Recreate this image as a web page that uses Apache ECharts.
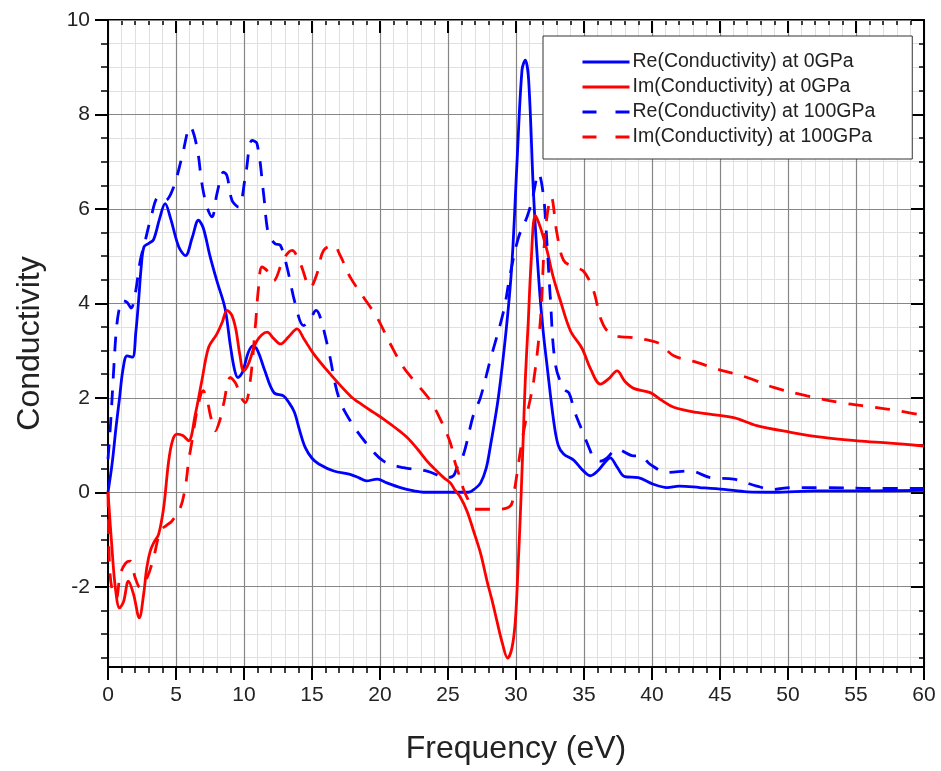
<!DOCTYPE html>
<html><head><meta charset="utf-8">
<script src="https://cdn.jsdelivr.net/npm/echarts@6/dist/echarts.min.js"></script>
<style>html,body{margin:0;padding:0;background:#fff}#c{width:941px;height:771px}</style>
</head><body><div id="c"></div>
<script>
// ---- data ----
const seriesNames = ['Re(Conductivity) at 0GPa','Im(Conductivity) at 0GPa','Re(Conductivity) at 100GPa','Im(Conductivity) at 100GPa'];

const re0 = [[0,0],[0.3,0.6],[0.6,1.4],[0.85,2.0],[1.1,2.6],[1.4,2.89],[1.8,2.86],[2.05,3.4],[2.25,4.06],[2.45,4.8],[2.65,5.2],[3.0,5.27],[3.35,5.35],[3.8,5.8],[4.2,6.11],[4.6,5.8],[5.2,5.2],[5.7,5.01],[6.2,5.4],[6.65,5.76],[7.0,5.6],[7.5,5.0],[8.0,4.48],[8.6,3.9],[9.0,3.1],[9.3,2.6],[9.55,2.43],[9.9,2.55],[10.3,2.95],[10.65,3.1],[11.0,3.0],[11.5,2.6],[12.2,2.11],[12.9,2.04],[13.3,1.9],[13.7,1.7],[14.1,1.3],[14.5,0.95],[15.0,0.72],[15.5,0.6],[16.6,0.45],[17.8,0.38],[18.5,0.3],[19.0,0.24],[19.8,0.28],[20.5,0.2],[21.5,0.1],[22.5,0.03],[23.2,0],[26.5,0],[27.0,0.08],[27.4,0.2],[27.8,0.5],[28.1,0.95],[28.7,2.0],[29.3,3.5],[29.7,4.84],[30.07,6.96],[30.44,8.94],[30.68,9.15],[30.93,8.73],[31.3,6.25],[31.7,4.4],[32.0,3.4],[32.3,2.64],[32.77,1.51],[33.1,1.0],[33.5,0.81],[34.24,0.68],[34.8,0.5],[35.46,0.35],[36.0,0.45],[36.5,0.62],[36.93,0.73],[37.4,0.55],[38.0,0.33],[39.0,0.31],[40.1,0.17],[41.1,0.1],[42.0,0.13],[43.5,0.1],[45.3,0.06],[47.0,0.01],[49,0],[52,0.03],[56,0.03],[60,0.04]];

const im0 = [[0,0],[0.29,-1.18],[0.54,-2.02],[0.85,-2.45],[1.15,-2.31],[1.5,-1.88],[1.88,-2.16],[2.3,-2.66],[2.62,-2.16],[2.85,-1.6],[3.1,-1.25],[3.4,-1.05],[3.72,-0.89],[4.09,-0.33],[4.46,0.66],[4.75,1.1],[5.07,1.23],[5.5,1.2],[5.93,1.09],[6.42,1.65],[6.9,2.36],[7.4,3.07],[8.0,3.35],[8.4,3.6],[8.75,3.85],[9.1,3.75],[9.4,3.45],[9.7,2.9],[9.97,2.57],[10.3,2.7],[10.96,3.21],[11.7,3.39],[12.2,3.25],[12.67,3.14],[13.3,3.3],[13.9,3.46],[14.4,3.25],[15.12,2.93],[16.35,2.5],[17.82,2.04],[18.7,1.85],[19.53,1.69],[20.26,1.55],[21.2,1.35],[22.0,1.16],[22.8,0.9],[23.46,0.66],[24.0,0.5],[24.68,0.31],[25.17,0.2],[25.5,0.05],[25.9,-0.1],[26.4,-0.4],[26.88,-0.82],[27.4,-1.3],[27.87,-1.88],[28.25,-2.3],[28.6,-2.73],[29.0,-3.2],[29.38,-3.51],[29.7,-3.3],[29.95,-2.73],[30.15,-1.6],[30.32,-0.47],[30.5,0.9],[30.68,2.36],[30.9,3.6],[31.1,4.8],[31.42,5.86],[31.8,5.6],[32.28,5.12],[32.7,4.6],[33.26,4.06],[34.0,3.42],[34.85,3.05],[35.5,2.6],[36.2,2.29],[36.8,2.4],[37.43,2.57],[38.0,2.35],[38.65,2.2],[39.87,2.11],[40.7,1.95],[41.6,1.8],[43.3,1.69],[46.0,1.58],[47.7,1.41],[50.2,1.27],[52.6,1.16],[55.1,1.09],[57.5,1.04],[60,0.98]];

const re100 = [[0,0.7],[0.2,1.5],[0.4,2.5],[0.6,3.4],[0.8,3.85],[1.03,4.06],[1.4,4.02],[1.7,3.9],[2.0,4.2],[2.37,4.9],[2.74,5.33],[3.11,5.76],[3.72,6.25],[4.21,6.18],[4.82,6.46],[5.44,7.1],[6.05,7.74],[6.54,7.31],[6.91,6.53],[7.28,6.04],[7.65,5.83],[8.01,6.32],[8.5,6.78],[8.75,6.7],[9.12,6.18],[9.6,6.04],[10.1,6.68],[10.59,7.45],[10.96,7.38],[11.44,6.32],[11.7,5.61],[11.93,5.4],[12.3,5.26],[12.67,5.23],[13.16,4.77],[13.77,3.99],[14.38,3.53],[14.88,3.67],[15.3,3.85],[15.61,3.7],[16.22,3.0],[16.96,2.01],[17.82,1.51],[19.04,1.02],[20.26,0.66],[21.74,0.52],[23.46,0.45],[24.93,0.31],[25.4,0.35],[25.66,0.52],[26.15,0.81],[26.88,1.65],[27.38,2.0],[28.1,2.79],[29.1,3.85],[29.58,4.63],[30.19,5.4],[30.81,5.83],[31.18,6.18],[31.66,6.75],[32.03,6.25],[32.28,5.26],[32.52,4.13],[32.89,2.72],[33.5,2.19],[33.9,2.1],[34.3,1.72],[34.97,1.23],[35.46,0.88],[35.7,0.73],[36.2,0.66],[36.7,0.73],[37.18,0.88],[37.43,0.91],[38.65,0.77],[39.14,0.77],[39.87,0.59],[41.1,0.42],[42.8,0.45],[44.3,0.31],[46.0,0.28],[47.7,0.13],[48.94,0.06],[50.2,0.1],[52.6,0.1],[56.3,0.08],[60,0.08]];

const im100 = [[0,0],[0.12,-1.6],[0.37,-2.16],[0.61,-2.24],[0.9,-1.74],[1.3,-1.5],[1.64,-1.46],[2.0,-1.81],[2.37,-2.02],[2.87,-1.81],[3.35,-1.39],[3.85,-0.82],[4.3,-0.7],[4.7,-0.61],[5.32,-0.33],[5.68,0.1],[5.93,0.66],[6.18,1.09],[6.6,1.8],[7.0,2.15],[7.3,1.94],[7.55,1.6],[7.89,1.3],[8.2,1.5],[8.5,1.87],[9.0,2.43],[9.4,2.3],[9.8,2.0],[10.1,1.9],[10.46,2.36],[10.83,3.5],[11.07,4.34],[11.32,4.77],[11.81,4.66],[12.18,4.48],[12.91,4.94],[13.53,5.12],[14.14,4.84],[14.88,4.34],[15.37,4.63],[15.85,5.12],[16.59,5.23],[17.08,5.01],[17.82,4.55],[18.79,4.13],[19.78,3.7],[20.76,3.14],[21.74,2.64],[22.72,2.29],[23.7,1.94],[24.43,1.55],[25.17,1.05],[25.5,0.65],[25.78,0.4],[26.1,0.1],[26.4,-0.11],[27.0,-0.36],[28.6,-0.36],[29.58,-0.29],[29.85,0.0],[30.07,0.38],[30.44,1.09],[30.81,1.65],[31.3,2.36],[31.79,3.63],[32.16,5.54],[32.6,6.25],[33.0,5.5],[33.5,4.91],[34.24,4.77],[34.97,4.68],[35.7,4.27],[36.2,3.7],[36.7,3.42],[37.5,3.3],[38.4,3.28],[39.87,3.21],[40.6,3.14],[41.6,2.89],[43.3,2.75],[44.78,2.61],[47.0,2.43],[48.94,2.22],[51.4,2.04],[53.85,1.9],[56.3,1.8],[58.25,1.72],[60,1.62]];

const yMajorTicks = [-2,0,2,4,6,8,10];
const yMinorTicks = [-3.5,-3,-2.5,-1.5,-1,-0.5,0.5,1,1.5,2.5,3,3.5,4.5,5,5.5,6.5,7,7.5,8.5,9,9.5];
const xTitle = 'Frequency (eV)';
const yTitle = 'Conductivity';

// ---- chart ----
const FONT = '"Liberation Sans", Arial, sans-serif';
const YMIN = -3.7, YMAX = 10;
const BLUE = '#0000ff', RED = '#ff0000';
const chart = echarts.init(document.getElementById('c'), null, {renderer: 'canvas'});

function yAx(extra) {
  return Object.assign({
    type: 'value', min: YMIN, max: YMAX,
    axisLine: {show: false, onZero: false},
    axisLabel: {show: false},
    splitLine: {show: false},
    minorTick: {show: false}
  }, extra);
}

const option = {
  animation: false,
  backgroundColor: '#fff',
  grid: {left: 108, right: 17, top: 20, bottom: 104},
  legend: {
    orient: 'vertical', left: 543, top: 36,
    padding: [16, 37, 12, 38],
    itemWidth: 47, itemHeight: 14, itemGap: 5,
    backgroundColor: '#fff', borderColor: '#333', borderWidth: 1, borderRadius: 0,
    itemStyle: {opacity: 0},
    lineStyle: {width: 3},
    textStyle: {fontSize: 19.5, fontFamily: FONT, color: '#222', lineHeight: 20, padding: [0, 0, 0, -2]},
    data: [
      {name: seriesNames[0]},
      {name: seriesNames[1]},
      {name: seriesNames[2], lineStyle: {type: [14, 19], width: 3}},
      {name: seriesNames[3], lineStyle: {type: [14, 19], width: 3}}
    ]
  },
  xAxis: [
    {
      type: 'value', min: 0, max: 60, interval: 5, position: 'bottom',
      name: xTitle, nameLocation: 'middle', nameGap: 66,
      nameTextStyle: {fontSize: 32, fontFamily: FONT, color: '#222'},
      axisLine: {show: true, onZero: false, lineStyle: {color: '#000', width: 2}},
      axisTick: {show: true, inside: false, length: 13, lineStyle: {color: '#000', width: 2}},
      minorTick: {show: true, splitNumber: 5, length: 6, lineStyle: {color: '#000', width: 1.5}},
      axisLabel: {fontSize: 21, fontFamily: FONT, color: '#222', margin: 18, showMinLabel: true, showMaxLabel: true},
      splitLine: {show: true, lineStyle: {color: '#868686', width: 1.2}},
      minorSplitLine: {show: true, lineStyle: {color: '#e0e0e0', width: 1}}
    },
    {
      type: 'value', min: 0, max: 60, interval: 5, position: 'top',
      axisLine: {show: true, onZero: false, lineStyle: {color: '#000', width: 2}},
      axisTick: {show: true, inside: true, length: 13, lineStyle: {color: '#000', width: 2}},
      minorTick: {show: true, splitNumber: 5, length: 5, lineStyle: {color: '#000', width: 1.5}},
      axisLabel: {show: false},
      splitLine: {show: false}
    }
  ],
  yAxis: [
    yAx({
      position: 'left', z: 2,
      name: yTitle, nameLocation: 'middle', nameGap: 62, nameRotate: 90,
      nameTextStyle: {fontSize: 32, fontFamily: FONT, color: '#222'},
      axisLine: {show: true, onZero: false, lineStyle: {color: '#000', width: 2}},
      axisTick: {show: true, inside: false, length: 13, customValues: yMajorTicks, lineStyle: {color: '#000', width: 2}},
      axisLabel: {show: true, customValues: yMajorTicks, fontSize: 21, fontFamily: FONT, color: '#222', margin: 18},
      splitLine: {show: true, lineStyle: {color: '#868686', width: 1.2}}
    }),
    yAx({
      position: 'right', z: 2,
      axisLine: {show: true, onZero: false, lineStyle: {color: '#000', width: 2}},
      axisTick: {show: true, inside: true, length: 13, customValues: yMajorTicks, lineStyle: {color: '#000', width: 2}}
    }),
    yAx({
      position: 'left', z: 0,
      axisTick: {show: true, inside: false, length: 7, customValues: yMinorTicks, lineStyle: {color: '#000', width: 1.5}},
      splitLine: {show: true, lineStyle: {color: '#e0e0e0', width: 1}}
    }),
    yAx({
      position: 'right', z: 0,
      axisTick: {show: true, inside: true, length: 5, customValues: yMinorTicks, lineStyle: {color: '#000', width: 1.5}}
    })
  ],
  series: [
    {name: seriesNames[0], data: re0, color: BLUE, lineStyle: {color: BLUE, width: 2.8, type: 'solid'}},
    {name: seriesNames[1], data: im0, color: RED, lineStyle: {color: RED, width: 2.8, type: 'solid'}},
    {name: seriesNames[2], data: re100, color: BLUE, lineStyle: {color: BLUE, width: 2.8, type: [15, 12]}},
    {name: seriesNames[3], data: im100, color: RED, lineStyle: {color: RED, width: 2.8, type: [15, 12]}}
  ].map(s => Object.assign({type: 'line', xAxisIndex: 0, yAxisIndex: 0, smooth: 0.35, showSymbol: false, symbol: 'none', z: 3}, s))
};
chart.setOption(option);
</script>
</body></html>
